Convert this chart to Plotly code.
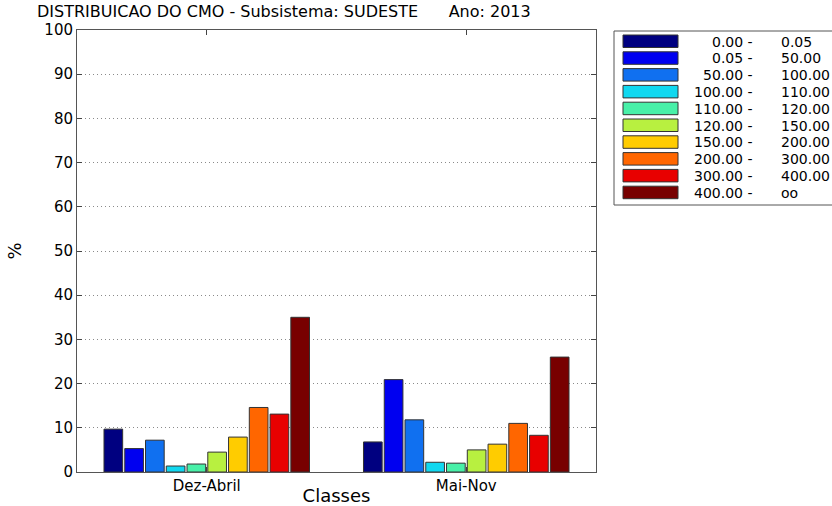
import plotly.graph_objects as go

categories = ["Dez-Abril", "Mai-Nov"]
class_low = ["0.00 -", "0.05 -", "50.00 -", "100.00 -", "110.00 -", "120.00 -",
             "150.00 -", "200.00 -", "300.00 -", "400.00 -"]
class_high = ["0.05", "50.00", "100.00", "110.00", "120.00", "150.00",
              "200.00", "300.00", "400.00", "oo"]
dez_abril = [9.7, 5.3, 7.2, 1.35, 1.8, 4.5, 7.9, 14.6, 13.1, 35.0]
mai_nov = [6.8, 20.9, 11.8, 2.2, 2.0, 5.0, 6.3, 11.0, 8.3, 26.0]
colors = ["#000080", "#0000F0", "#1070F0", "#10D8F0", "#48F0A8",
          "#B8F040", "#FFCC00", "#FF6600", "#E80000", "#780000"]
yticks = [0, 10, 20, 30, 40, 50, 60, 70, 80, 90, 100]
title_text = "DISTRIBUICAO DO CMO - Subsistema: SUDESTE&nbsp;&nbsp;&nbsp;&nbsp;&nbsp;&nbsp;Ano: 2013"

FONT = "DejaVu Sans, Liberation Sans, Arial, sans-serif"
W, H = 832, 506
L, R, T, B = 77, 236, 30, 34
pw, ph = W - L - R, H - T - B

fig = go.Figure()
for i in range(len(class_low)):
    fig.add_trace(go.Bar(
        x=[1, 2], y=[dez_abril[i], mai_nov[i]],
        name=class_low[i] + " " + class_high[i],
        marker=dict(color=colors[i], line=dict(color="#333333", width=1)),
        showlegend=False,
    ))

def px_x(x):
    return (x - L) / pw

def px_y(y):
    return 1 - (y - T) / ph

shapes = []
annotations = []
# legend box
shapes.append(dict(type="rect", xref="paper", yref="paper",
                   x0=px_x(614), x1=px_x(845), y0=px_y(205), y1=px_y(31),
                   line=dict(color="#555555", width=1), fillcolor="white", layer="above"))
for i in range(len(class_low)):
    top = 35 + i * 16.8
    shapes.append(dict(type="rect", xref="paper", yref="paper",
                       x0=px_x(623), x1=px_x(678), y0=px_y(top + 12.5), y1=px_y(top),
                       line=dict(color="#333333", width=1), fillcolor=colors[i], layer="above"))
    cy = px_y(top + 6.5)
    annotations.append(dict(xref="paper", yref="paper", x=px_x(755), y=cy,
                            text=class_low[i], showarrow=False, xanchor="right",
                            yanchor="middle", font=dict(size=14, color="black")))
    annotations.append(dict(xref="paper", yref="paper", x=px_x(779), y=cy,
                            text=class_high[i], showarrow=False, xanchor="left",
                            yanchor="middle", font=dict(size=14, color="black")))

annotations.append(dict(xref="paper", yref="paper", x=px_x(35), y=px_y(12),
                        text=title_text, showarrow=False, xanchor="left", yanchor="middle",
                        font=dict(size=16, color="black")))

fig.update_layout(
    width=W, height=H,
    margin=dict(l=L, r=R, t=T, b=B, autoexpand=False),
    paper_bgcolor="white", plot_bgcolor="white",
    font=dict(family=FONT, size=15, color="black"),
    barmode="group", bargap=0.2, bargroupgap=0.1,
    shapes=shapes, annotations=annotations,
    xaxis=dict(range=[0.5, 2.5], tickvals=[1, 2], ticktext=categories,
               ticks="inside", ticklen=5, tickcolor="#444444",
               showline=True, linecolor="#555555", mirror="ticks", showgrid=False,
               zeroline=False, automargin=False, tickfont=dict(size=15),
               title=dict(text="Classes", standoff=6, font=dict(size=18))),
    yaxis=dict(range=[0, 100], tickvals=yticks, ticks="inside", ticklen=5,
               tickcolor="#444444", showline=True, linecolor="#555555", mirror="ticks",
               showgrid=True, gridcolor="#8a8a8a", griddash="1px,3px", gridwidth=1,
               zeroline=False, automargin=False, tickfont=dict(size=15),
               title=dict(text="%", standoff=18, font=dict(size=18))),
)

fig.write_html("out.html", config={"displayModeBar": False},
               post_script="document.body.style.margin='0';document.body.style.overflow='hidden';")
